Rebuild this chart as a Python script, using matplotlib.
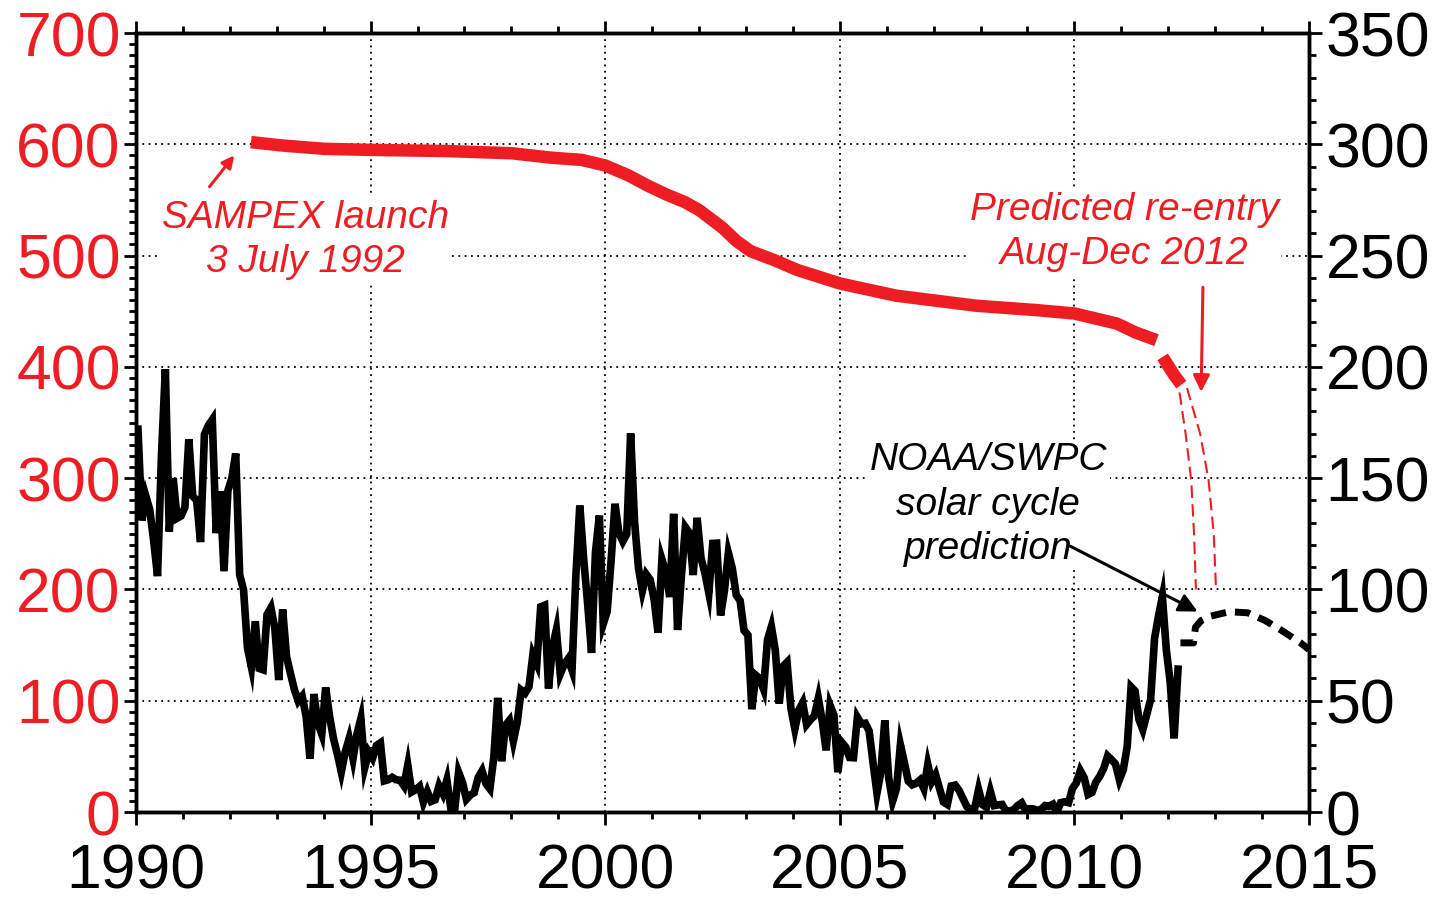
import matplotlib
matplotlib.use('Agg')
import matplotlib.pyplot as plt
import numpy as np

plt.rcParams['font.family'] = ['Liberation Sans', 'DejaVu Sans']

RED = '#ee1d23'

# monthly sunspot number (right axis), Jan 1990 .. Mar 2012
ssn_1990 = [172, 131, 142, 136, 122, 106, 160, 199, 126, 150, 132, 133]
ssn_1991 = [136.9, 167.5, 141.9, 140.0, 121.3, 169.7, 173.7, 176.3, 125.3, 144.1, 108.2, 144.4]
ssn_1992 = [150.0, 161.1, 106.7, 99.8, 73.8, 65.2, 85.7, 64.5, 63.9, 88.7, 91.8, 82.6]
ssn_1993 = [59.3, 91.0, 69.8, 62.2, 55.0, 49.8, 52.0, 43.0, 24.0, 53.0, 40.0, 35.0]
ssn_1994 = [56.0, 43.0, 33.0, 26.0, 18.0, 27.0, 33.0, 24.0, 35.0, 42.0, 20.0, 27.0]
ssn_1995 = [24.2, 29.9, 31.1, 14.0, 14.5, 15.6, 14.5, 14.3, 11.8, 21.1, 9.0, 10.0]
ssn_1996 = [11.5, 4.4, 9.2, 4.8, 5.5, 11.8, 8.2, 14.4, 1.6, 0.9, 17.9, 13.3]
ssn_1997 = [5.7, 7.6, 8.7, 15.5, 18.5, 12.7, 10.4, 24.4, 51.3, 22.8, 39.0, 41.2]
ssn_1998 = [31.9, 40.3, 54.8, 53.4, 56.3, 70.7, 66.6, 92.2, 92.9, 55.5, 74.0, 81.9]
ssn_1999 = [62.0, 66.3, 68.8, 63.7, 106.4, 137.7, 113.5, 93.7, 71.5, 116.7, 133.2, 84.6]
ssn_2000 = [90.1, 112.9, 138.5, 125.5, 121.6, 124.9, 170.1, 130.5, 109.7, 99.4, 106.8, 104.4]
ssn_2001 = [95.6, 80.6, 113.5, 107.7, 96.6, 134.0, 81.8, 106.4, 128.0, 125.5, 106.5, 132.2]
ssn_2002 = [114.1, 107.4, 98.4, 120.7, 120.8, 88.3, 99.6, 116.4, 109.6, 97.5, 95.0, 81.6]
ssn_2003 = [79.5, 46.2, 61.5, 60.0, 55.2, 77.4, 83.3, 72.7, 48.7, 65.5, 67.3, 46.5]
ssn_2004 = [37.3, 45.8, 49.1, 39.3, 41.5, 43.2, 51.1, 40.9, 27.7, 48.0, 43.5, 17.9]
ssn_2005 = [31.3, 29.2, 24.5, 24.4, 42.6, 39.6, 39.9, 36.4, 22.1, 8.5, 18.0, 41.2]
ssn_2006 = [15.3, 4.9, 10.6, 30.2, 22.3, 13.9, 12.2, 12.9, 14.4, 10.5, 21.4, 13.6]
ssn_2007 = [16.8, 10.7, 4.5, 3.4, 11.7, 12.1, 9.7, 6.0, 2.4, 0.9, 1.7, 10.1]
ssn_2008 = [3.3, 2.1, 9.3, 2.9, 3.2, 3.4, 0.5, 0.5, 1.1, 2.9, 4.1, 0.8]
ssn_2009 = [1.5, 1.4, 0.7, 1.2, 2.9, 2.6, 3.5, 0.0, 4.2, 4.6, 4.2, 10.6]
ssn_2010 = [13.1, 18.6, 15.4, 7.9, 8.8, 13.5, 16.1, 19.6, 25.2, 23.5, 21.6, 14.5]
ssn_2011 = [19.0, 29.4, 56.2, 54.4, 41.6, 37.0, 43.8, 50.6, 78.0, 88.0, 96.7, 73.0]
ssn_2012 = [58.3, 33.1, 64.2]

# NOAA/SWPC predicted sunspot number
pred_years = [2012.26, 2012.54, 2012.58, 2012.7, 2012.9, 2013.3, 2013.7, 2014.07, 2014.46, 2014.82, 2015.0]
pred_ssn = [76, 76, 83, 86, 88, 90, 89.5, 86, 81, 76, 73]

# SAMPEX altitude (km, left axis)
alt_years = [1992.45, 1993.1, 1994.0, 1995.0, 1996.6, 1998.0, 1998.85, 1999.5, 2000.0, 2000.5,
             2000.9, 2001.3, 2001.7, 2002.0, 2002.5, 2002.8, 2003.1, 2003.6, 2004.1, 2005.0,
             2006.2, 2007.9, 2009.2, 2010.0, 2010.9, 2011.3, 2011.75]
alt_km = [602, 599, 596, 595, 594, 592, 588, 586, 581, 572,
          563, 555, 548, 541, 525, 513, 504, 496, 487, 475,
          464, 455, 451, 448, 439, 431, 424]
alt2_years = [2011.88, 2012.0, 2012.12, 2012.28]
alt2_km = [409, 401, 393, 384]

# predicted decay, early and late re-entry
early_years = [2012.24, 2012.37, 2012.49, 2012.55, 2012.59]
early_km = [377, 340, 298, 250, 200]
late_years = [2012.40, 2012.68, 2012.86, 2012.97, 2013.02]
late_km = [381, 340, 298, 250, 198]

ssn = (ssn_1990 + ssn_1991 + ssn_1992 + ssn_1993 + ssn_1994 + ssn_1995 + ssn_1996 +
       ssn_1997 + ssn_1998 + ssn_1999 + ssn_2000 + ssn_2001 + ssn_2002 + ssn_2003 +
       ssn_2004 + ssn_2005 + ssn_2006 + ssn_2007 + ssn_2008 + ssn_2009 + ssn_2010 +
       ssn_2011 + ssn_2012)
ssn_years = 1990 + (np.arange(len(ssn)) + 0.5) / 12.0

fig = plt.figure(figsize=(14.41, 9.08), dpi=100)
ax = fig.add_axes([0.0944, 0.1057, 0.8140, 0.8579])
ax2 = ax.twinx()

ax.set_xlim(1990, 2015)
ax.set_ylim(0, 700)
ax2.set_ylim(0, 350)

ax.set_xticks(range(1990, 2016, 5))
ax.set_xticks(range(1990, 2016), minor=True)
ax.set_yticks(range(0, 701, 100))
ax.set_yticks(range(0, 701, 10), minor=True)
ax2.set_yticks(range(0, 351, 50))
ax2.set_yticks(range(0, 351, 10), minor=True)

ax.grid(True, which='major', color='black', linestyle=(0, (1, 2.5)), linewidth=1.3)
ax.set_axisbelow(True)

for a in (ax, ax2):
    for s in a.spines.values():
        s.set_linewidth(2.5)

ax.tick_params(axis='x', which='both', top=True, direction='out', width=2)
ax.tick_params(axis='x', which='major', length=9, labelsize=45, pad=13)
ax.tick_params(axis='x', which='minor', length=5)
ax.tick_params(axis='y', which='both', direction='out', width=2, labelcolor=RED)
ax.tick_params(axis='y', which='major', length=9, labelsize=45, pad=2)
ax.tick_params(axis='y', which='minor', length=5)
ax2.tick_params(axis='y', which='both', direction='out', width=2)
ax2.tick_params(axis='y', which='major', length=9, labelsize=45, pad=3)
ax2.tick_params(axis='y', which='minor', length=5)

# altitude
ax.plot(alt_years, alt_km, color=RED, lw=9, solid_capstyle='butt', zorder=3)
ax.plot(alt2_years, alt2_km, color=RED, lw=9, solid_capstyle='butt', zorder=3)
ax.plot(early_years, early_km, color=RED, lw=1.5, dashes=(6, 3), zorder=3)
ax.plot(late_years, late_km, color=RED, lw=1.5, dashes=(6, 3), zorder=3)

# sunspots
ax2.plot(ssn_years, ssn, color='black', lw=5.5, solid_joinstyle='miter')
ax2.plot(pred_years, pred_ssn, color='black', lw=5, dashes=(2.2, 1.3), dash_capstyle='butt')

bg = dict(facecolor='white', edgecolor='none', pad=2)
ax2.text(1993.62, 514, 'SAMPEX launch\n3 July 1992', transform=ax.transData,
         color=RED, style='italic', fontsize=28, ha='center', va='center',
         linespacing=1.3, bbox=bg)
ax2.text(2011.06, 521, 'Predicted re-entry\nAug-Dec 2012', transform=ax.transData,
         color=RED, style='italic', fontsize=28, ha='center', va='center',
         linespacing=1.3, bbox=bg)
ax2.text(2008.16, 276, 'NOAA/SWPC\nsolar cycle\nprediction', transform=ax.transData,
         color='black', style='italic', fontsize=28, ha='center', va='center',
         linespacing=1.3, bbox=bg)

ax2.annotate('', xy=(2012.68, 89.5), xytext=(2009.86, 120),
             arrowprops=dict(arrowstyle='-|>', color='black', lw=2.2, mutation_scale=28))
ax.annotate('', xy=(1992.13, 592), xytext=(1991.53, 560),
            arrowprops=dict(arrowstyle='-|>', color=RED, lw=2.2, mutation_scale=18))
ax.annotate('', xy=(2012.70, 375), xytext=(2012.74, 474),
            arrowprops=dict(arrowstyle='-|>', color=RED, lw=2.2, mutation_scale=25))

fig.savefig('out.png', dpi=100)
